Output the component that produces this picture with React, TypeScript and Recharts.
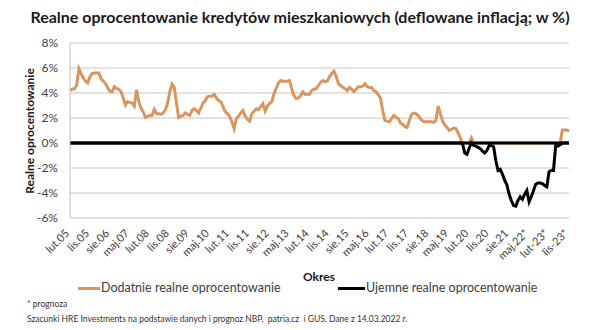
import { CartesianGrid, Line, LineChart, ReferenceLine, XAxis, YAxis } from "recharts";

const MONTHS = ["sty", "lut", "mar", "kwi", "maj", "cze", "lip", "sie", "wrz", "paź", "lis", "gru"];

// Realne oprocentowanie (%), miesięcznie: lut.05 – lis.23 (2022–2023 prognoza)
const r2005 = [4.2, 4.3, 4.35, 4.6, 5.95, 5.55, 5.2, 4.95, 4.8, 5.3, 5.55];
const r2006 = [5.6, 5.6, 5.6, 5.15, 4.95, 4.75, 4.4, 4.15, 4.1, 4.5, 4.35, 4.3];
const r2007 = [4.1, 3.6, 3.05, 3.3, 3.25, 3.2, 2.95, 4.25, 3.3, 2.8, 2.5, 2.05];
const r2008 = [2.15, 2.2, 2.2, 2.7, 2.35, 2.35, 2.3, 2.4, 2.65, 3.2, 4.1, 4.7];
const r2009 = [4.45, 3.2, 2.05, 2.15, 2.2, 2.4, 2.3, 2.2, 2.6, 2.75, 2.6, 2.4];
const r2010 = [2.8, 3.2, 3.4, 3.7, 3.75, 3.75, 3.9, 3.6, 3.4, 3.3, 2.9, 2.5];
const r2011 = [2.35, 2.1, 1.7, 1.15, 1.95, 2.15, 2.4, 2.6, 2.15, 1.9, 1.75, 2.35];
const r2012 = [2.55, 2.75, 2.65, 2.9, 3.15, 2.55, 2.95, 3.15, 3.3, 3.95, 4.4, 4.8];
const r2013 = [5.0, 4.95, 4.95, 4.95, 5.0, 4.3, 3.8, 3.55, 3.6, 3.8, 4.1, 3.9];
const r2014 = [3.9, 3.9, 4.2, 4.3, 4.35, 4.6, 4.85, 5.0, 4.9, 4.95, 5.3, 5.55];
const r2015 = [5.75, 5.35, 4.75, 4.6, 4.45, 4.35, 4.2, 4.45, 4.3, 4.1, 4.3, 4.5];
const r2016 = [4.5, 4.55, 4.75, 4.5, 4.45, 4.45, 4.2, 4.1, 3.85, 3.6, 2.6, 1.8];
const r2017 = [1.75, 1.7, 1.95, 2.2, 2.05, 1.95, 1.6, 1.5, 1.3, 1.25, 1.8, 2.3];
const r2018 = [2.4, 2.35, 2.2, 1.95, 1.75, 1.7, 1.7, 1.7, 1.7, 1.65, 1.8, 2.95];
const r2019 = [2.35, 1.75, 1.45, 1.25, 1.0, 1.1, 1.2, 1.15, 0.8, 0.4, -0.05, -0.8];
const r2020 = [-0.9, -0.4, 0.4, -0.2, -0.25, -0.35, -0.45, -0.65, -0.8, -0.6, -0.2, -0.2];
const r2021 = [-0.3, -1.4, -2.2, -2.1, -2.5, -3.0, -3.35, -4.1, -4.6, -5.0, -5.05, -4.6];
const r2022 = [-4.3, -4.5, -4.1, -3.8, -4.7, -4.3, -3.8, -3.3, -3.2, -3.2, -3.25, -3.4];
const r2023 = [-3.5, -2.3, -2.2, -2.2, -0.2, -0.25, -0.15, 1.05, 1.05, 1.05, 0.95];

const YEARS: [number, number[]][] = [
  [2005, r2005], [2006, r2006], [2007, r2007], [2008, r2008], [2009, r2009],
  [2010, r2010], [2011, r2011], [2012, r2012], [2013, r2013], [2014, r2014],
  [2015, r2015], [2016, r2016], [2017, r2017], [2018, r2018], [2019, r2019],
  [2020, r2020], [2021, r2021], [2022, r2022], [2023, r2023],
];

const Y_TICKS = [-6, -4, -2, 0, 2, 4, 6, 8];

const ORANGE = "#D9955F";
const FONT = "Lato, 'Open Sans', sans-serif";

// dodatnie i ujemne części szeregu jako osobne linie
const data: { month: string; pos: number; neg: number }[] = [];
for (const [year, vals] of YEARS) {
  const first = year === 2005 ? 1 : 0;
  const yy = String(year).slice(2);
  const sep = year === 2023 ? "-" : ".";
  const star = year >= 2022 ? "*" : "";
  vals.forEach((v, k) => {
    data.push({
      month: `${MONTHS[first + k]}${sep}${yy}${star}`,
      pos: Math.max(v, 0),
      neg: Math.min(v, 0),
    });
  });
}

const AngledTick = (props: any) => {
  const { x, y, payload } = props;
  return (
    <g transform={`translate(${x},${y + 8}) rotate(-45)`}>
      <text textAnchor="end" fontSize={11} fill="#404040" fontFamily={FONT}>
        {payload.value}
      </text>
    </g>
  );
};

export default function App() {
  return (
    <div
      style={{
        position: "absolute",
        left: 0,
        top: 0,
        width: 600,
        height: 330,
        background: "#fff",
        fontFamily: FONT,
        color: "#404040",
      }}
    >
      <div
        style={{
          position: "absolute",
          left: 0,
          width: 600,
          top: 6,
          textAlign: "center",
          fontSize: 16,
          fontWeight: 700,
          color: "#1a1a1a",
          lineHeight: "22px",
          whiteSpace: "nowrap",
        }}
      >
        Realne oprocentowanie kredytów mieszkaniowych (deflowane inflacją; w %)
      </div>

      <LineChart
        width={600}
        height={330}
        data={data}
        margin={{ top: 43, right: 31, bottom: 72, left: 0 }}
      >
        <CartesianGrid vertical={false} stroke="#c6c6c6" />
        <XAxis
          dataKey="month"
          interval={8}
          tick={<AngledTick />}
          tickLine={false}
          axisLine={false}
          height={40}
        />
        <YAxis
          domain={[-6, 8]}
          ticks={Y_TICKS}
          tickFormatter={(v) => `${v}%`}
          width={70}
          tickLine={false}
          tickMargin={6}
          axisLine={{ stroke: "#bfbfbf" }}
          tick={{ fontSize: 12, fill: "#404040", fontFamily: FONT }}
        />
        <Line
          dataKey="pos"
          type="linear"
          stroke={ORANGE}
          strokeWidth={3}
          dot={false}
          isAnimationActive={false}
        />
        {/* gruba linia zera nad szeregiem dodatnim */}
        <ReferenceLine y={0} stroke="#000" strokeWidth={3} />
        <Line
          dataKey="neg"
          type="linear"
          stroke="#000"
          strokeWidth={3}
          dot={false}
          isAnimationActive={false}
        />
      </LineChart>

      <div
        style={{
          position: "absolute",
          left: 29,
          top: 131,
          transform: "translate(-50%, -50%) rotate(-90deg)",
          whiteSpace: "nowrap",
          fontSize: 12,
          fontWeight: 700,
          color: "#1a1a1a",
        }}
      >
        Realne oprocentowanie
      </div>

      <div
        style={{
          position: "absolute",
          left: 319,
          top: 276,
          transform: "translate(-50%, -50%)",
          fontSize: 12,
          fontWeight: 700,
          color: "#1a1a1a",
        }}
      >
        Okres
      </div>

      <div style={{ position: "absolute", left: 78, top: 287, width: 22, height: 3, background: ORANGE }} />
      <div style={{ position: "absolute", left: 101, top: 280, fontSize: 12.5, lineHeight: "16px" }}>
        Dodatnie realne oprocentowanie
      </div>
      <div style={{ position: "absolute", left: 338, top: 287, width: 27, height: 3, background: "#000" }} />
      <div style={{ position: "absolute", left: 366, top: 280, fontSize: 12.5, lineHeight: "16px" }}>
        Ujemne realne oprocentowanie
      </div>

      <div style={{ position: "absolute", left: 27, top: 299, fontSize: 8.5, lineHeight: "11px", color: "#333" }}>
        * prognoza
      </div>
      <div
        style={{
          position: "absolute",
          left: 27,
          top: 314,
          fontSize: 8.5,
          lineHeight: "11px",
          color: "#333",
          whiteSpace: "pre",
        }}
      >
        Szacunki HRE Investments na podstawie danych i prognoz NBP,  patria.cz  i GUS. Dane z 14.03.2022 r.
      </div>
    </div>
  );
}
